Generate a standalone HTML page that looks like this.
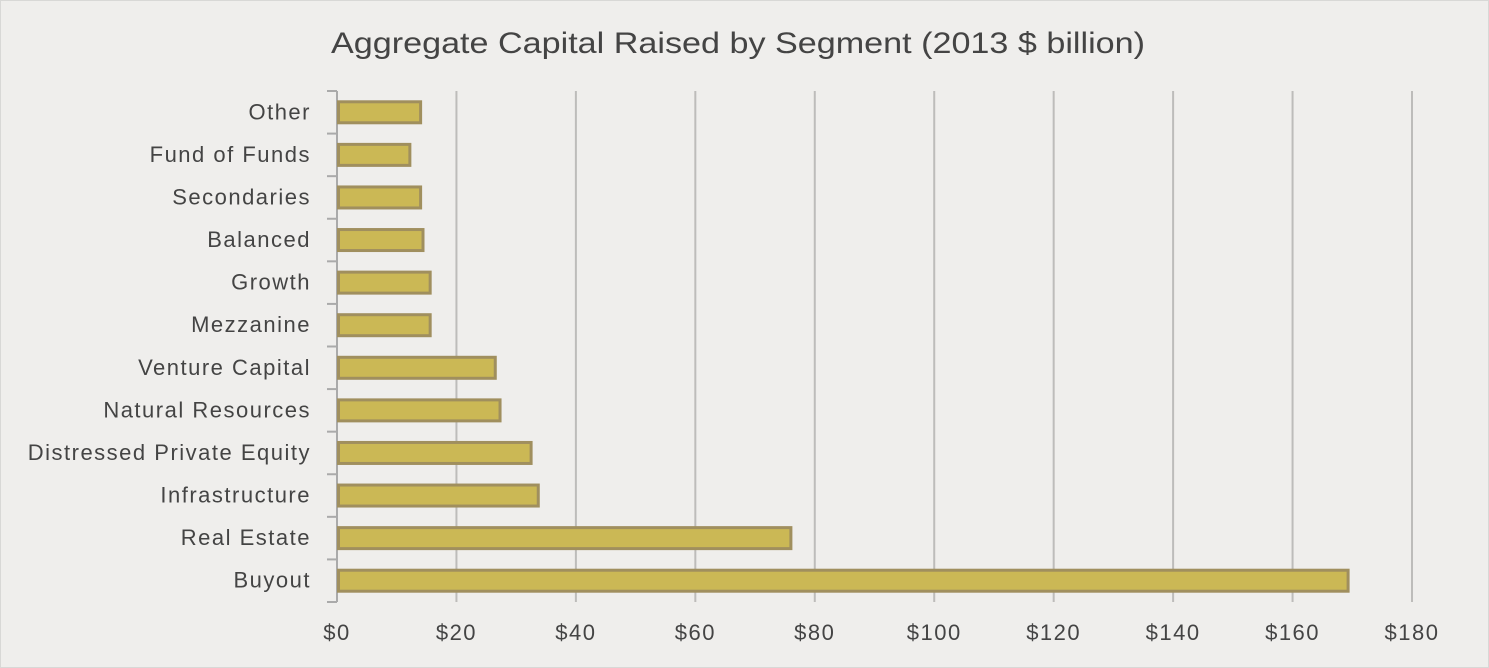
<!DOCTYPE html>
<html><head><meta charset="utf-8"><style>
html,body{margin:0;padding:0;background:#efeeec;}
svg{display:block;font-family:"Liberation Sans",sans-serif;}
</style></head><body>
<svg id="chart" width="1489" height="668">
<rect x="0.5" y="0.5" width="1488" height="667" fill="#efeeec" stroke="#d8d8d6"/>
<text x="331" y="53" textLength="814" lengthAdjust="spacingAndGlyphs" font-size="30" fill="#444">Aggregate Capital Raised by Segment (2013 $ billion)</text>
<g id="grid"></g><g id="bars"></g><g id="labels"></g>
</svg>
<script>
const categories=["Other","Fund of Funds","Secondaries","Balanced","Growth","Mezzanine","Venture Capital","Natural Resources","Distressed Private Equity","Infrastructure","Real Estate","Buyout"];
const values=[14,12.2,14,14.4,15.6,15.6,26.5,27.3,32.5,33.7,76,169.3];
const ticks=[0,20,40,60,80,100,120,140,160,180];
const tickLabels=["$0","$20","$40","$60","$80","$100","$120","$140","$160","$180"];
const NS="http://www.w3.org/2000/svg";
const x0=337,x1=1412,yTop=91,yBottom=602;
const xs=v=>x0+(v/180)*(x1-x0);
const band=(yBottom-yTop)/categories.length;
const yc=i=>yTop+band*(i+0.5);
function mk(t,a,p){const e=document.createElementNS(NS,t);for(const k in a)e.setAttribute(k,a[k]);p.appendChild(e);return e;}
const gGrid=document.getElementById('grid'),gBars=document.getElementById('bars'),gLabels=document.getElementById('labels');
ticks.forEach((t,i)=>{
 if(i>0){const ln=mk('line',{x1:xs(t),x2:xs(t),y1:yTop,y2:yBottom,stroke:'#bdbcba','stroke-width':2},gGrid);
 
 }
 const tx=mk('text',{x:xs(t),y:640,'text-anchor':'middle','font-size':22,'letter-spacing':1.5,fill:'#444'},gLabels);
 tx.textContent=tickLabels[i];
 
 
});
const ax=mk('line',{x1:x0,x2:x0,y1:yTop,y2:yBottom,stroke:'#aaa','stroke-width':2},gGrid);


for(let i=0;i<=categories.length;i++){const tk=mk('line',{x1:327,x2:x0,y1:yTop+band*i,y2:yTop+band*i,stroke:'#aaa','stroke-width':2},gGrid);
 
 }
categories.forEach((c,i)=>{
 const r=mk('rect',{x:x0+1.5,y:yc(i)-10.5,width:xs(values[i])-x0-1.5,height:21,fill:'#cbb855',stroke:'#a08f5e','stroke-width':3},gBars);
 
 
 const t=mk('text',{x:311,y:yc(i)+7,'text-anchor':'end','font-size':22,'letter-spacing':1.5,fill:'#444'},gLabels);
 t.textContent=c;
 
 
});
</script>
</body></html>
